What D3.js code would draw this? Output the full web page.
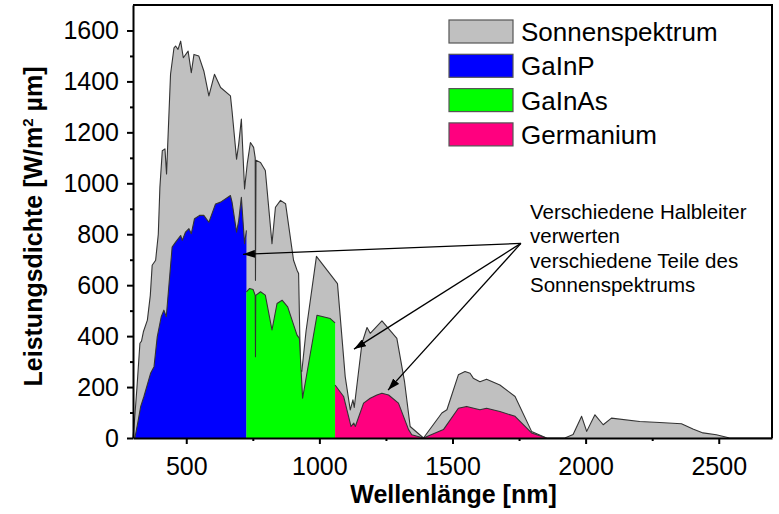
<!DOCTYPE html>
<html>
<head>
<meta charset="utf-8">
<script src="https://cdn.jsdelivr.net/npm/d3@7"></script>
<style>
  body { margin: 0; background: #fff; }
  svg { display: block; }
  text { font-family: "Liberation Sans", Arial, sans-serif; fill: #000; }
</style>
</head>
<body>
<svg id="chart" width="779" height="514"></svg>
<script>
// Solar spectrum (AM1.5) and the parts absorbed by each sub-cell: [wavelength nm, W/(m² µm)]
const sunSpectrum = [
  [300,0],[305,60],[315,200],[326,372],[332,380],[339,417],[354,463],[365,560],[372,678],[385,698],
  [395,800],[401,984],[410,1128],[420,1135],[426,1037],[441,1428],[454,1532],[460,1539],[469,1526],
  [479,1558],[489,1493],[507,1519],[519,1434],[529,1506],[547,1500],[566,1441],[585,1343],[606,1428],
  [629,1376],[666,1343],[672,1284],[689,1095],[697,1154],[707,1252],[719,978],[729,1076],[741,1160],
  [753,1141],[759,1100],[760,619],[762,1090],[779,1082],[797,1050],[822,763],[835,906],[854,933],
  [873,920],[903,698],[916,659],[922,646],[929,267],[934,261],[950,420],[989,713],[1068,606],
  [1097,241],[1116,110],[1126,150],[1131,120],[1160,372],[1179,434],[1191,411],[1235,460],[1291,391],
  [1320,220],[1341,45],[1391,0],[1460,98],[1479,111],[1522,248],[1547,261],[1566,254],[1578,235],
  [1603,221],[1628,231],[1678,208],[1735,163],[1797,26],[1853,0],[1922,0],[1953,14],[1985,85],
  [2004,26],[2035,91],[2066,52],[2097,78],[2203,65],[2278,61],[2360,56],[2403,35],[2441,20],
  [2491,13],[2541,0],[2700,0]
];
const gainpBand = [
  [307,0],[318,60],[329,124],[341,163],[366,254],[379,280],[391,397],[406,476],[416,502],[425,476],
  [447,750],[460,769],[479,795],[485,776],[497,808],[510,822],[519,802],[531,861],[550,874],[566,874],
  [585,847],[610,919],[629,926],[666,952],[672,926],[689,808],[697,854],[707,945],[719,763],[726,815]
];
const gainasBand = [
  [726,574],[738,587],[751,583],[759,560],[760,319],[761,560],[779,574],[797,561],[822,424],[841,528],
  [860,541],[881,515],[916,404],[925,391],[937,156],[991,482],[1041,469],[1059,452]
];
const germaniumBand = [
  [1059,208],[1091,163],[1119,45],[1129,59],[1135,45],[1166,137],[1191,156],[1216,169],[1235,176],
  [1260,169],[1297,137],[1335,33],[1347,13],[1391,0],[1466,33],[1522,117],[1553,124],[1603,111],
  [1628,117],[1678,104],[1735,85],[1797,20],[1853,0]
];

const xTicks = [500, 1000, 1500, 2000, 2500];
const xMinorTicks = [750, 1250, 1750, 2250];
const yTicks = [0, 200, 400, 600, 800, 1000, 1200, 1400, 1600];
const yMinorTicks = [100, 300, 500, 700, 900, 1100, 1300, 1500];

const legendLabels = ["Sonnenspektrum", "GaInP", "GaInAs", "Germanium"];
const legendColors = ["#c0c0c0", "#0000ff", "#00ff00", "#ff007f"];

const noteLines = ["Verschiedene Halbleiter", "verwerten", "verschiedene Teile des", "Sonnenspektrums"];
const arrowSource = [1757, 764];
const arrowTargets = [[713, 721], [1130, 349], [1258, 188]];

const svg = d3.select("#chart");
const plotLeft = 133, plotRight = 772, plotTop = 5, plotBottom = 438;

const x = d3.scaleLinear().domain([300, 2700]).range([plotLeft, plotRight]);
const y = d3.scaleLinear().domain([0, 1700]).range([plotBottom, plotTop]);

// Filled spectrum areas
const area = d3.area().x(d => x(d[0])).y0(y(0)).y1(d => y(d[1]));
const line = d3.line().x(d => x(d[0])).y(d => y(d[1]));
const closeBand = pts => [[pts[0][0], 0], ...pts, [pts[pts.length - 1][0], 0]];

const series = [
  { pts: sunSpectrum, color: legendColors[0] },
  { pts: gainpBand, color: legendColors[1] },
  { pts: gainasBand, color: legendColors[2] },
  { pts: germaniumBand, color: legendColors[3] }
];
const plot = svg.append("g");
series.forEach(s => {
  plot.append("path").attr("d", area(closeBand(s.pts))).attr("fill", s.color).attr("stroke", "none");
  plot.append("path").attr("d", line(s.pts)).attr("fill", "none")
    .attr("stroke", "#333").attr("stroke-width", 1.1).attr("stroke-linejoin", "round");
});

// Axes
const tickFont = "25px";
const fmt = d3.format("d");
svg.append("g").attr("transform", `translate(0,${plotBottom})`)
  .call(d3.axisBottom(x).tickValues(xTicks).tickFormat(fmt).tickSize(6).tickPadding(13).tickSizeOuter(0));
svg.append("g").attr("transform", `translate(0,${plotBottom})`)
  .call(d3.axisBottom(x).tickValues(xMinorTicks).tickSize(3).tickFormat("").tickSizeOuter(0))
  .select(".domain").remove();
svg.append("g").attr("transform", `translate(${plotLeft},0)`)
  .call(d3.axisLeft(y).tickValues(yTicks).tickFormat(fmt).tickSize(6).tickPadding(8).tickSizeOuter(0));
svg.append("g").attr("transform", `translate(${plotLeft},0)`)
  .call(d3.axisLeft(y).tickValues(yMinorTicks).tickSize(3).tickFormat("").tickSizeOuter(0))
  .select(".domain").remove();

svg.selectAll(".tick text").style("font-size", tickFont).style("font-family", '"Liberation Sans", Arial, sans-serif').attr("fill", "#000");
svg.selectAll(".tick line").attr("stroke", "#000").attr("stroke-width", 2);
svg.selectAll(".domain").attr("stroke", "#000").attr("stroke-width", 2);

// Frame top and right
svg.append("path")
  .attr("d", `M${plotLeft},${plotTop}H${plotRight}V${plotBottom}`)
  .attr("fill", "none").attr("stroke", "#000").attr("stroke-width", 2);

// Axis titles
svg.append("text").attr("x", (plotLeft + plotRight) / 2 + 1).attr("y", 503)
  .attr("text-anchor", "middle").style("font-size", "25px").style("font-weight", "bold")
  .text("Wellenlänge [nm]");
const yTitle = svg.append("text")
  .attr("transform", `translate(42,${(plotTop + plotBottom) / 2 + 5}) rotate(-90)`)
  .attr("text-anchor", "middle").style("font-size", "25px").style("font-weight", "bold");
yTitle.append("tspan").text("Leistungsdichte [W/m");
yTitle.append("tspan").attr("dy", -9).style("font-size", "15px").text("2");
yTitle.append("tspan").attr("dy", 9).text(" µm]");

// Legend
const legend = svg.append("g");
legendLabels.forEach((lab, i) => {
  const gy = 20 + i * 34.3;
  legend.append("rect").attr("x", 449).attr("y", gy).attr("width", 64).attr("height", 23)
    .attr("fill", legendColors[i]).attr("stroke", "#555").attr("stroke-width", 1.2);
  legend.append("text").attr("x", 521).attr("y", gy + 21).style("font-size", "26px").text(lab);
});

// Annotation with arrows
const defs = svg.append("defs");
defs.append("marker").attr("id", "head").attr("viewBox", "0 0 12 8")
  .attr("refX", 12).attr("refY", 4).attr("markerWidth", 12).attr("markerHeight", 8)
  .attr("markerUnits", "userSpaceOnUse").attr("orient", "auto")
  .append("path").attr("d", "M0,0L12,4L0,8Z").attr("fill", "#000");
arrowTargets.forEach(t => {
  svg.append("line")
    .attr("x1", x(arrowSource[0])).attr("y1", y(arrowSource[1]))
    .attr("x2", x(t[0])).attr("y2", y(t[1]))
    .attr("stroke", "#000").attr("stroke-width", 1.3).attr("marker-end", "url(#head)");
});
const note = svg.append("text").style("font-size", "20.5px");
noteLines.forEach((s, i) => {
  note.append("tspan").attr("x", 530).attr("y", 219 + i * 24.4).text(s);
});
</script>
</body>
</html>
